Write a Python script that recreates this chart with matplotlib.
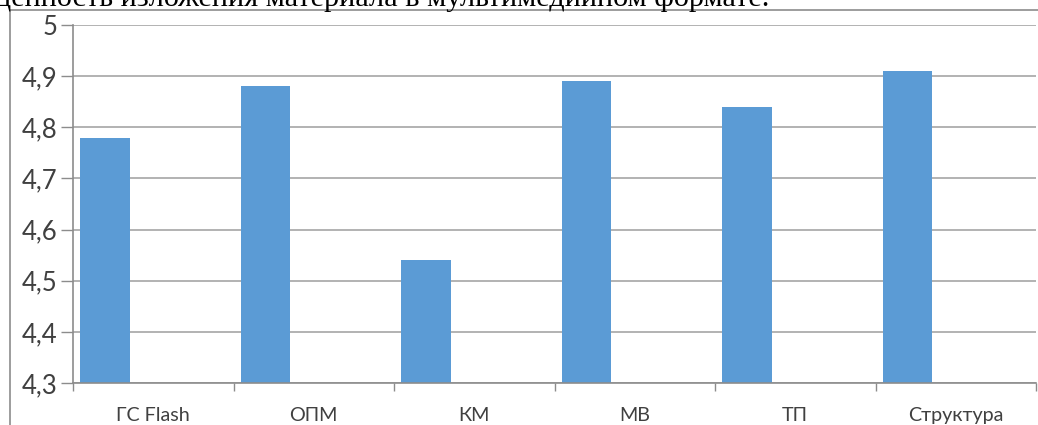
import matplotlib
matplotlib.use("Agg")
import matplotlib.pyplot as plt
from matplotlib.patches import Rectangle
from matplotlib.ticker import MultipleLocator, FuncFormatter
import numpy as np

categories = ["ГС Flash", "ОПМ", "КМ", "МВ", "ТП", "Структура"]
scores = [4.78, 4.88, 4.54, 4.89, 4.84, 4.91]
y_min, y_max, y_step = 4.3, 5.0, 0.1
caption = "ценность изложения материала в мультимедийном формате."

W, H = 1038, 425
fig = plt.figure(figsize=(W / 100, H / 100), dpi=100)

# caption line of the surrounding document, clipped at the top edge
fig.text(-5 / W, 1 - 6 / H, caption, family="Liberation Serif", fontsize=21.8,
         ha="left", va="baseline", color="black")

# outer chart frame
fig.patches.append(Rectangle((9.5 / W, -0.1), 1.2, 1 - 10 / H + 0.1,
                             transform=fig.transFigure, fill=False,
                             edgecolor="#8c8c8c", linewidth=1.2))

ax = fig.add_axes([73 / W, 1 - 383 / H, (1036 - 73) / W, (383 - 25) / H])

x = np.arange(len(categories))
bar_w = 0.31
ax.bar(x - 0.5 + 0.045 + bar_w / 2, scores, width=bar_w, bottom=0,
       color="#5B9BD5", zorder=3)

ax.set_ylim(y_min, y_max)
ax.set_xlim(-0.5, len(categories) - 0.5)
ax.yaxis.set_major_locator(MultipleLocator(y_step))
ax.yaxis.set_major_formatter(FuncFormatter(lambda v, p: f"{v:.1f}".replace(".", ",").replace(",0", "")))
ax.grid(axis="y", color="#a6a6a6", linewidth=1.2, zorder=0)

ax.set_xticks(x)
ax.set_xticklabels(categories, family="Lato", fontsize=14.2, color="#404040")
ax.set_xticks(np.arange(len(categories) + 1) - 0.5, minor=True)
ax.tick_params(axis="x", which="major", length=0, pad=17)
ax.tick_params(axis="x", which="minor", length=6, width=1, color="#8c8c8c", direction="out")
ax.tick_params(axis="y", length=9, width=1, color="#8c8c8c", pad=2,
               labelsize=18.5, labelcolor="#404040")
for lab in ax.get_yticklabels():
    lab.set_family("Lato")

for s in ["top", "right"]:
    ax.spines[s].set_visible(False)
for s in ["left", "bottom"]:
    ax.spines[s].set_color("#8c8c8c")
    ax.spines[s].set_linewidth(1.2)
    ax.spines[s].set_zorder(4)

fig.savefig("out.png", dpi=100)
